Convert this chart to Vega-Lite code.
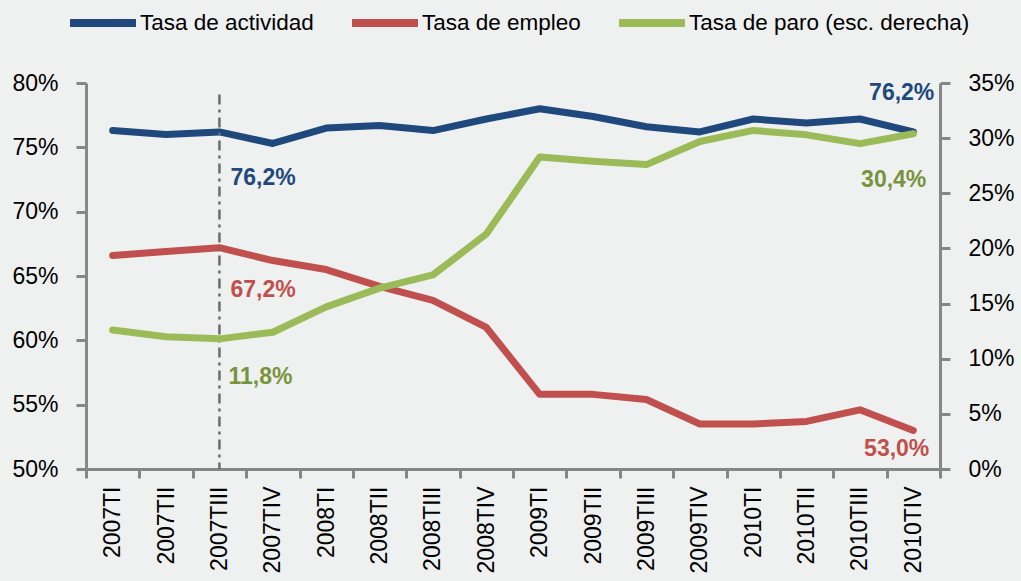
{
  "$schema": "https://vega.github.io/schema/vega-lite/v6.json",
  "width": 854,
  "height": 386,
  "autosize": {"type": "none"},
  "padding": {"left": 86, "top": 83, "right": 81, "bottom": 112},
  "background": "#eff1f0",
  "config": {
    "view": {"stroke": null},
    "font": "Liberation Sans",
    "axis": {
      "domainColor": "#868686", "domainWidth": 3, "tickColor": "#868686", "tickWidth": 3,
      "labelFont": "Liberation Sans", "labelFontSize": 23, "labelColor": "#000000", "grid": false, "title": null
    },
    "legend": {"labelFont": "Liberation Sans", "labelFontSize": 22.5, "labelColor": "#000000", "padding": 0, "labelLimit": 400}
  },
  "datasets": {
    "series": [
      {"periodo": "2007TI", "serie": "Tasa de actividad", "valor": 76.3},
      {"periodo": "2007TII", "serie": "Tasa de actividad", "valor": 76.0},
      {"periodo": "2007TIII", "serie": "Tasa de actividad", "valor": 76.2},
      {"periodo": "2007TIV", "serie": "Tasa de actividad", "valor": 75.3},
      {"periodo": "2008TI", "serie": "Tasa de actividad", "valor": 76.5},
      {"periodo": "2008TII", "serie": "Tasa de actividad", "valor": 76.7},
      {"periodo": "2008TIII", "serie": "Tasa de actividad", "valor": 76.3},
      {"periodo": "2008TIV", "serie": "Tasa de actividad", "valor": 77.2},
      {"periodo": "2009TI", "serie": "Tasa de actividad", "valor": 78.0},
      {"periodo": "2009TII", "serie": "Tasa de actividad", "valor": 77.4},
      {"periodo": "2009TIII", "serie": "Tasa de actividad", "valor": 76.6},
      {"periodo": "2009TIV", "serie": "Tasa de actividad", "valor": 76.2},
      {"periodo": "2010TI", "serie": "Tasa de actividad", "valor": 77.2},
      {"periodo": "2010TII", "serie": "Tasa de actividad", "valor": 76.9},
      {"periodo": "2010TIII", "serie": "Tasa de actividad", "valor": 77.2},
      {"periodo": "2010TIV", "serie": "Tasa de actividad", "valor": 76.2},
      {"periodo": "2007TI", "serie": "Tasa de empleo", "valor": 66.6},
      {"periodo": "2007TII", "serie": "Tasa de empleo", "valor": 66.9},
      {"periodo": "2007TIII", "serie": "Tasa de empleo", "valor": 67.2},
      {"periodo": "2007TIV", "serie": "Tasa de empleo", "valor": 66.2},
      {"periodo": "2008TI", "serie": "Tasa de empleo", "valor": 65.5},
      {"periodo": "2008TII", "serie": "Tasa de empleo", "valor": 64.2},
      {"periodo": "2008TIII", "serie": "Tasa de empleo", "valor": 63.1},
      {"periodo": "2008TIV", "serie": "Tasa de empleo", "valor": 61.0},
      {"periodo": "2009TI", "serie": "Tasa de empleo", "valor": 55.8},
      {"periodo": "2009TII", "serie": "Tasa de empleo", "valor": 55.8},
      {"periodo": "2009TIII", "serie": "Tasa de empleo", "valor": 55.4},
      {"periodo": "2009TIV", "serie": "Tasa de empleo", "valor": 53.5},
      {"periodo": "2010TI", "serie": "Tasa de empleo", "valor": 53.5},
      {"periodo": "2010TII", "serie": "Tasa de empleo", "valor": 53.7},
      {"periodo": "2010TIII", "serie": "Tasa de empleo", "valor": 54.6},
      {"periodo": "2010TIV", "serie": "Tasa de empleo", "valor": 53.0},
      {"periodo": "2007TI", "serie": "Tasa de paro (esc. derecha)", "valor": 12.6},
      {"periodo": "2007TII", "serie": "Tasa de paro (esc. derecha)", "valor": 12.0},
      {"periodo": "2007TIII", "serie": "Tasa de paro (esc. derecha)", "valor": 11.8},
      {"periodo": "2007TIV", "serie": "Tasa de paro (esc. derecha)", "valor": 12.4},
      {"periodo": "2008TI", "serie": "Tasa de paro (esc. derecha)", "valor": 14.7},
      {"periodo": "2008TII", "serie": "Tasa de paro (esc. derecha)", "valor": 16.4},
      {"periodo": "2008TIII", "serie": "Tasa de paro (esc. derecha)", "valor": 17.6},
      {"periodo": "2008TIV", "serie": "Tasa de paro (esc. derecha)", "valor": 21.3},
      {"periodo": "2009TI", "serie": "Tasa de paro (esc. derecha)", "valor": 28.3},
      {"periodo": "2009TII", "serie": "Tasa de paro (esc. derecha)", "valor": 27.9},
      {"periodo": "2009TIII", "serie": "Tasa de paro (esc. derecha)", "valor": 27.6},
      {"periodo": "2009TIV", "serie": "Tasa de paro (esc. derecha)", "valor": 29.7},
      {"periodo": "2010TI", "serie": "Tasa de paro (esc. derecha)", "valor": 30.7},
      {"periodo": "2010TII", "serie": "Tasa de paro (esc. derecha)", "valor": 30.3},
      {"periodo": "2010TIII", "serie": "Tasa de paro (esc. derecha)", "valor": 29.5},
      {"periodo": "2010TIV", "serie": "Tasa de paro (esc. derecha)", "valor": 30.4}
    ],
    "etiquetas": [
      {"periodo": "2007TIII", "serie": "Tasa de actividad", "valor": 76.2, "texto": "76,2%", "posicion": "inicio"},
      {"periodo": "2007TIII", "serie": "Tasa de empleo", "valor": 67.2, "texto": "67,2%", "posicion": "inicio"},
      {"periodo": "2007TIII", "serie": "Tasa de paro (esc. derecha)", "valor": 11.8, "texto": "11,8%", "posicion": "inicio"},
      {"periodo": "2010TIV", "serie": "Tasa de actividad", "valor": 76.2, "texto": "76,2%", "posicion": "fin"},
      {"periodo": "2010TIV", "serie": "Tasa de empleo", "valor": 53.0, "texto": "53,0%", "posicion": "fin"},
      {"periodo": "2010TIV", "serie": "Tasa de paro (esc. derecha)", "valor": 30.4, "texto": "30,4%", "posicion": "fin"}
    ],
    "referencia": [
      {"periodo": "2007TIII", "arriba": 79.1, "abajo": 50}
    ]
  },
  "resolve": {"scale": {"y": "independent"}},
  "layer": [
    {
      "layer": [
        {
          "data": {"name": "series"},
          "transform": [{"filter": "datum.serie !== 'Tasa de paro (esc. derecha)'"}],
          "mark": {"type": "line", "strokeWidth": 7, "strokeCap": "round", "strokeJoin": "round"},
          "encoding": {
            "x": {"field": "periodo", "type": "nominal"},
            "y": {"field": "valor", "type": "quantitative"},
            "color": {"field": "serie", "type": "nominal"}
          }
        },
        {
          "data": {"name": "referencia"},
          "mark": {"type": "rule", "strokeWidth": 2.5, "strokeDash": [10, 5, 3, 5]},
          "encoding": {
            "x": {"field": "periodo", "type": "nominal"},
            "y": {"field": "arriba", "type": "quantitative"},
            "y2": {"field": "abajo"},
            "color": {"value": "#6d6d6d"}
          }
        },
        {
          "data": {"name": "etiquetas"},
          "transform": [{"filter": "datum.serie === 'Tasa de actividad' && datum.posicion === 'inicio'"}],
          "mark": {"type": "text", "align": "left", "baseline": "middle", "dx": 11, "dy": 46, "fontSize": 23, "fontWeight": "bold"},
          "encoding": {"x": {"field": "periodo", "type": "nominal"}, "y": {"field": "valor", "type": "quantitative"}, "text": {"field": "texto"}, "color": {"value": "#1F497D"}}
        },
        {
          "data": {"name": "etiquetas"},
          "transform": [{"filter": "datum.serie === 'Tasa de empleo' && datum.posicion === 'inicio'"}],
          "mark": {"type": "text", "align": "left", "baseline": "middle", "dx": 11, "dy": 42, "fontSize": 23, "fontWeight": "bold"},
          "encoding": {"x": {"field": "periodo", "type": "nominal"}, "y": {"field": "valor", "type": "quantitative"}, "text": {"field": "texto"}, "color": {"value": "#C0504D"}}
        },
        {
          "data": {"name": "etiquetas"},
          "transform": [{"filter": "datum.serie === 'Tasa de actividad' && datum.posicion === 'fin'"}],
          "mark": {"type": "text", "align": "right", "baseline": "middle", "dx": 21, "dy": -39, "fontSize": 23, "fontWeight": "bold"},
          "encoding": {"x": {"field": "periodo", "type": "nominal"}, "y": {"field": "valor", "type": "quantitative"}, "text": {"field": "texto"}, "color": {"value": "#1F497D"}}
        },
        {
          "data": {"name": "etiquetas"},
          "transform": [{"filter": "datum.serie === 'Tasa de empleo' && datum.posicion === 'fin'"}],
          "mark": {"type": "text", "align": "right", "baseline": "middle", "dx": 16, "dy": 19, "fontSize": 23, "fontWeight": "bold"},
          "encoding": {"x": {"field": "periodo", "type": "nominal"}, "y": {"field": "valor", "type": "quantitative"}, "text": {"field": "texto"}, "color": {"value": "#C0504D"}}
        }
      ],
      "encoding": {
        "x": {
          "field": "periodo", "type": "nominal",
          "scale": {
            "type": "band", "paddingInner": 0, "paddingOuter": 0,
            "domain": ["2007TI", "2007TII", "2007TIII", "2007TIV", "2008TI", "2008TII", "2008TIII", "2008TIV", "2009TI", "2009TII", "2009TIII", "2009TIV", "2010TI", "2010TII", "2010TIII", "2010TIV"]
          },
          "axis": {"labelAngle": -90, "tickBand": "extent", "tickSize": 9, "labelPadding": 8, "labelFontSize": 23}
        },
        "y": {
          "type": "quantitative",
          "scale": {"domain": [50, 80], "nice": false, "zero": false},
          "axis": {"orient": "left", "values": [50, 55, 60, 65, 70, 75, 80], "labelExpr": "datum.value + '%'", "tickSize": 10, "labelPadding": 18}
        },
        "color": {
          "field": "serie", "type": "nominal",
          "scale": {"domain": ["Tasa de actividad", "Tasa de empleo", "Tasa de paro (esc. derecha)"], "range": ["#1F497D", "#C0504D", "#9BBB59"]},
          "legend": {
            "orient": "none", "direction": "horizontal", "legendX": -20, "legendY": -97, "title": null,
            "symbolType": "stroke", "symbolSize": 4356, "symbolStrokeWidth": 8, "labelOffset": 0, "columnPadding": 22
          }
        }
      }
    },
    {
      "layer": [
        {
          "data": {"name": "series"},
          "transform": [{"filter": "datum.serie === 'Tasa de paro (esc. derecha)'"}],
          "mark": {"type": "line", "strokeWidth": 7, "strokeCap": "round", "strokeJoin": "round"},
          "encoding": {
            "x": {"field": "periodo", "type": "nominal"},
            "y": {"field": "valor", "type": "quantitative"},
            "color": {"field": "serie", "type": "nominal"}
          }
        },
        {
          "data": {"name": "etiquetas"},
          "transform": [{"filter": "datum.serie === 'Tasa de paro (esc. derecha)' && datum.posicion === 'inicio'"}],
          "mark": {"type": "text", "align": "left", "baseline": "middle", "dx": 9, "dy": 38, "fontSize": 23, "fontWeight": "bold"},
          "encoding": {"x": {"field": "periodo", "type": "nominal"}, "y": {"field": "valor", "type": "quantitative"}, "text": {"field": "texto"}, "color": {"value": "#77933C"}}
        },
        {
          "data": {"name": "etiquetas"},
          "transform": [{"filter": "datum.serie === 'Tasa de paro (esc. derecha)' && datum.posicion === 'fin'"}],
          "mark": {"type": "text", "align": "right", "baseline": "middle", "dx": 13, "dy": 46, "fontSize": 23, "fontWeight": "bold"},
          "encoding": {"x": {"field": "periodo", "type": "nominal"}, "y": {"field": "valor", "type": "quantitative"}, "text": {"field": "texto"}, "color": {"value": "#77933C"}}
        }
      ],
      "encoding": {
        "y": {
          "type": "quantitative",
          "scale": {"domain": [0, 35], "nice": false},
          "axis": {"orient": "right", "values": [0, 5, 10, 15, 20, 25, 30, 35], "labelExpr": "datum.value + '%'", "tickSize": 10, "labelPadding": 18}
        }
      }
    }
  ]
}
